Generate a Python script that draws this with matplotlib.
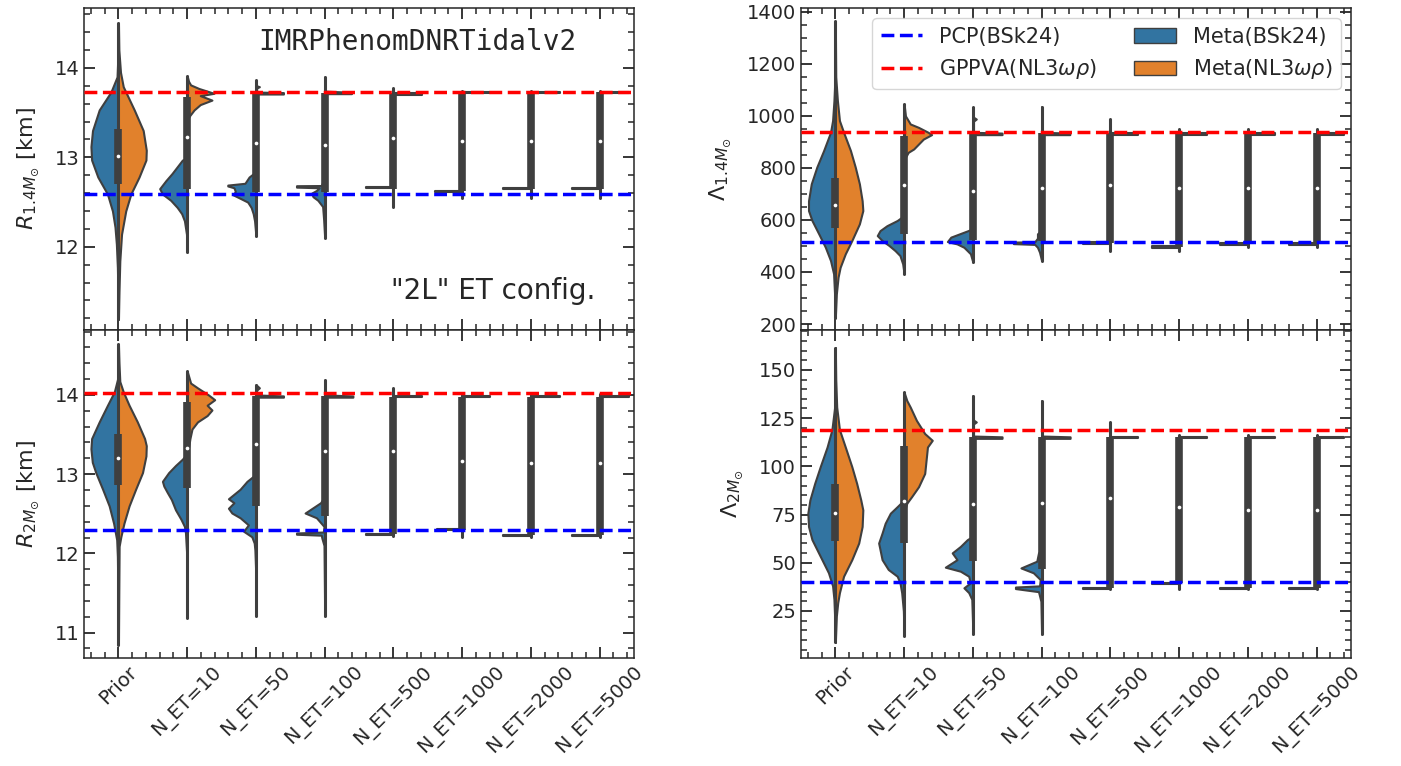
import numpy as np
import matplotlib
matplotlib.use("Agg")
import matplotlib.pyplot as plt
from matplotlib.ticker import MultipleLocator
from matplotlib.lines import Line2D
from matplotlib.patches import Patch

# ---------------- data ----------------
CATS = ["Prior", "N_ET=10", "N_ET=50", "N_ET=100", "N_ET=500",
        "N_ET=1000", "N_ET=2000", "N_ET=5000"]

# reference lines
R14_PCP, R14_GPPVA = 12.59, 13.727
R2_PCP, R2_GPPVA = 12.30, 14.03
L14_PCP, L14_GPPVA = 517, 937
L2_PCP, L2_GPPVA = 40, 119

# half-violin density profiles: (value, half-width in category units)
R14_BSK = [
    [(14.50, 0), (14.2, 0.005), (13.9, 0.02), (13.73, 0.11), (13.53, 0.28), (13.30, 0.377), (13.12, 0.40),
     (12.97, 0.39), (12.78, 0.30), (12.59, 0.16), (12.40, 0.087), (12.22, 0.05), (12.03, 0.03), (11.77, 0.015),
     (11.5, 0.008), (11.19, 0)],
    [(12.99, 0), (12.97, 0.07), (12.82, 0.22), (12.74, 0.31), (12.65, 0.40), (12.59, 0.36), (12.52, 0.24),
     (12.44, 0.145), (12.37, 0.08), (12.29, 0.04), (12.14, 0.01), (11.94, 0)],
    [(12.84, 0), (12.78, 0.10), (12.71, 0.16), (12.69, 0.41), (12.68, 0.41), (12.66, 0.32), (12.62, 0.30),
     (12.58, 0.33), (12.55, 0.25), (12.50, 0.12), (12.44, 0.07), (12.37, 0.04), (12.29, 0.02), (12.12, 0)],
    [(12.76, 0), (12.72, 0.03), (12.685, 0.05), (12.683, 0.41), (12.667, 0.41), (12.66, 0.08), (12.63, 0.12),
     (12.60, 0.19), (12.56, 0.17), (12.52, 0.10), (12.45, 0.03), (12.30, 0.015), (12.10, 0)],
    [(12.671, 0.40), (12.655, 0.40)],
    [(12.628, 0.40), (12.612, 0.40)],
    [(12.658, 0.41), (12.642, 0.41)],
    [(12.658, 0.40), (12.642, 0.40)],
]
R14_NL3 = [
    [(14.50, 0), (14.2, 0.006), (13.95, 0.03), (13.79, 0.07), (13.53, 0.23), (13.30, 0.36), (13.08, 0.405),
     (12.97, 0.40), (12.78, 0.30), (12.59, 0.18), (12.40, 0.106), (12.14, 0.045), (11.84, 0.02),
     (11.5, 0.008), (11.19, 0)],
    [(13.91, 0), (13.85, 0.02), (13.81, 0.05), (13.77, 0.17), (13.716, 0.39), (13.69, 0.19), (13.64, 0.36),
     (13.59, 0.19), (13.53, 0.10), (13.47, 0.04), (13.42, 0)],
    [(13.86, 0), (13.80, 0.01), (13.79, 0.05), (13.775, 0.01), (13.73, 0.01), (13.724, 0.40), (13.708, 0.40)],
    [(13.90, 0), (13.74, 0.01), (13.728, 0.39), (13.712, 0.39)],
    [(13.718, 0.42), (13.702, 0.42)],
    [(13.735, 0.41), (13.719, 0.41)],
    [(13.735, 0.42), (13.719, 0.42)],
    [(13.735, 0.43), (13.719, 0.43)],
]
R14_Q1 = [12.70, 12.65, 12.61, 12.61, 12.645, 12.62, 12.65, 12.65]
R14_Q3 = [13.32, 13.67, 13.727, 13.72, 13.72, 13.727, 13.727, 13.727]
R14_MED = [13.01, 13.23, 13.16, 13.14, 13.22, 13.18, 13.18, 13.18]
R14_LO = [11.19, 11.94, 12.12, 12.10, 12.44, 12.55, 12.55, 12.55]
R14_HI = [14.50, 13.91, 13.86, 13.90, 13.78, 13.74, 13.74, 13.74]

R2_BSK = [
    [(14.64, 0), (14.4, 0.005), (14.21, 0.01), (14.04, 0.06), (13.87, 0.16), (13.66, 0.28), (13.45, 0.39),
     (13.32, 0.40), (13.15, 0.38), (13.02, 0.33), (12.81, 0.23), (12.60, 0.135), (12.38, 0.07), (12.17, 0.025),
     (11.96, 0.015), (11.5, 0.008), (10.85, 0)],
    [(13.26, 0), (13.19, 0.07), (13.11, 0.17), (13.02, 0.27), (12.91, 0.36), (12.85, 0.34), (12.77, 0.29),
     (12.68, 0.23), (12.55, 0.17), (12.43, 0.09), (12.34, 0.04), (12.26, 0.025), (12.0, 0.008), (11.19, 0)],
    [(13.0, 0), (12.91, 0.13), (12.81, 0.23), (12.69, 0.40), (12.64, 0.32), (12.57, 0.40), (12.51, 0.35),
     (12.45, 0.23), (12.36, 0.11), (12.28, 0.18), (12.21, 0.06), (12.13, 0.025), (12.04, 0.015),
     (11.8, 0.005), (11.21, 0)],
    [(12.72, 0), (12.64, 0.06), (12.51, 0.285), (12.45, 0.12), (12.34, 0.01), (12.27, 0.02), (12.258, 0.41),
     (12.242, 0.41), (12.23, 0.05), (12.19, 0.04), (12.1, 0.01), (11.21, 0)],
    [(12.248, 0.40), (12.232, 0.40)],
    [(12.308, 0.36), (12.292, 0.36)],
    [(12.238, 0.41), (12.222, 0.41)],
    [(12.238, 0.40), (12.222, 0.40)],
]
R2_NL3 = [
    [(14.64, 0), (14.4, 0.008), (14.17, 0.02), (14.04, 0.07), (13.87, 0.155), (13.66, 0.275), (13.45, 0.38),
     (13.36, 0.405), (13.23, 0.40), (13.02, 0.35), (12.81, 0.25), (12.60, 0.155), (12.38, 0.08),
     (12.21, 0.035), (12.09, 0.01), (11.5, 0.005), (10.85, 0)],
    [(14.30, 0), (14.15, 0.05), (14.09, 0.15), (14.0, 0.31), (13.94, 0.40), (13.87, 0.29), (13.81, 0.36),
     (13.74, 0.29), (13.66, 0.15), (13.57, 0.07), (13.45, 0.04), (13.28, 0.01), (13.2, 0)],
    [(14.13, 0), (14.09, 0.05), (14.06, 0.01), (14.0, 0.01), (13.988, 0.40), (13.972, 0.40)],
    [(14.19, 0), (14.0, 0.01), (13.988, 0.41), (13.972, 0.41)],
    [(13.988, 0.42), (13.972, 0.42)],
    [(13.988, 0.41), (13.972, 0.41)],
    [(13.988, 0.42), (13.972, 0.42)],
    [(13.988, 0.43), (13.972, 0.43)],
]
R2_Q1 = [12.86, 12.83, 12.60, 12.47, 12.24, 12.30, 12.23, 12.23]
R2_Q3 = [13.51, 13.91, 13.99, 13.99, 13.98, 13.98, 13.98, 13.98]
R2_MED = [13.20, 13.33, 13.38, 13.29, 13.29, 13.17, 13.14, 13.14]
R2_LO = [10.85, 11.19, 11.21, 11.21, 12.22, 12.21, 12.21, 12.21]
R2_HI = [14.64, 14.30, 14.13, 14.19, 14.085, 14.01, 14.01, 14.01]

L14_BSK = [
    [(1364, 0), (1150, 0.005), (1059, 0.02), (982, 0.04), (937, 0.07), (867, 0.17), (803, 0.27), (739, 0.35),
     (674, 0.39), (636, 0.39), (598, 0.34), (546, 0.24), (495, 0.145), (444, 0.07), (393, 0.025),
     (300, 0.008), (225, 0)],
    [(617, 0), (598, 0.10), (578, 0.25), (559, 0.35), (540, 0.39), (521, 0.32), (502, 0.22), (482, 0.13),
     (463, 0.06), (431, 0.02), (393, 0)],
    [(566, 0), (553, 0.13), (534, 0.32), (517, 0.37), (508, 0.23), (495, 0.13), (482, 0.08), (470, 0.035),
     (438, 0)],
    [(560, 0), (547, 0.06), (530, 0.06), (516, 0.10), (515, 0.41), (509, 0.41), (506, 0.10), (495, 0.06),
     (476, 0.03), (444, 0)],
    [(514, 0.40), (508, 0.40)],
    [(500, 0.39), (494, 0.39)],
    [(510, 0.40), (504, 0.40)],
    [(510, 0.40), (504, 0.40)],
]
L14_NL3 = [
    [(1364, 0), (1150, 0.006), (1059, 0.03), (982, 0.06), (937, 0.12), (867, 0.22), (803, 0.29), (739, 0.35),
     (674, 0.39), (636, 0.40), (585, 0.35), (521, 0.24), (470, 0.145), (418, 0.07), (380, 0.04),
     (316, 0.015), (225, 0)],
    [(1046, 0), (1000, 0.02), (969, 0.09), (956, 0.21), (937, 0.35), (928, 0.40), (911, 0.28), (892, 0.21),
     (873, 0.14), (860, 0.06), (841, 0.02), (822, 0)],
    [(1033, 0), (995, 0.01), (988, 0.05), (980, 0.01), (937, 0.01), (934, 0.425), (928, 0.425)],
    [(1036, 0), (937, 0.01), (934, 0.41), (928, 0.41)],
    [(934, 0.40), (928, 0.40)],
    [(934, 0.40), (928, 0.40)],
    [(934, 0.40), (928, 0.40)],
    [(934, 0.40), (928, 0.40)],
]
L14_Q1 = [568, 547, 523, 521, 511, 497, 507, 507]
L14_Q3 = [762, 924, 934, 934, 934, 934, 934, 934]
L14_MED = [659, 736, 713, 722, 735, 721, 721, 721]
L14_LO = [225, 393, 438, 444, 479, 479, 497, 497]
L14_HI = [1364, 1046, 1033, 1036, 988, 950, 950, 950]

L2_BSK = [
    [(161.6, 0), (140, 0.005), (130.7, 0.01), (119, 0.05), (110, 0.12), (99.8, 0.22), (91.2, 0.30),
     (82.6, 0.37), (75.7, 0.40), (68.8, 0.39), (62, 0.34), (53.4, 0.22), (44.8, 0.10), (38, 0.04),
     (31, 0.02), (20, 0.008), (8.7, 0)],
    [(82.6, 0), (79.1, 0.10), (75.7, 0.20), (70.5, 0.275), (65.4, 0.32), (60.2, 0.37), (56.8, 0.35),
     (51.6, 0.32), (46.5, 0.23), (43, 0.10), (39.6, 0.06), (34.5, 0.035), (25, 0.01), (12.1, 0)],
    [(63.7, 0), (62, 0.08), (58.5, 0.18), (55.1, 0.30), (51.6, 0.23), (47.7, 0.40), (45.6, 0.18),
     (43, 0.06), (39.6, 0.035), (37, 0.13), (34.5, 0.06), (31, 0.015), (20, 0.005), (13, 0)],
    [(57, 0), (55.1, 0.045), (50.8, 0.07), (47.3, 0.30), (44.8, 0.12), (41.3, 0.02), (38, 0.03),
     (37.4, 0.38), (36.6, 0.38), (35, 0.045), (30, 0.01), (13, 0)],
    [(37.1, 0.40), (36.3, 0.40)],
    [(39.7, 0.39), (38.9, 0.39)],
    [(37.1, 0.40), (36.3, 0.40)],
    [(37.1, 0.40), (36.3, 0.40)],
]
L2_NL3 = [
    [(161.6, 0), (145, 0.006), (130.7, 0.02), (119, 0.06), (110, 0.145), (99.8, 0.24), (91.2, 0.31),
     (82.6, 0.37), (77.4, 0.40), (68.8, 0.39), (60.2, 0.34), (51.6, 0.24), (43, 0.12), (34.5, 0.06),
     (29.3, 0.035), (22.4, 0.015), (8.7, 0)],
    [(138.4, 0), (134.1, 0.04), (130.7, 0.09), (123.8, 0.18), (117, 0.30), (113.5, 0.41), (110, 0.34),
     (103.2, 0.32), (96.3, 0.30), (89.4, 0.21), (84.3, 0.11), (80.9, 0.04), (77.4, 0.01), (75, 0)],
    [(136.7, 0), (124, 0.01), (123, 0.05), (122, 0.01), (115.7, 0.01), (115.3, 0.425), (114.5, 0.425)],
    [(134.1, 0), (115.7, 0.01), (115.3, 0.415), (114.5, 0.415)],
    [(115.3, 0.40), (114.5, 0.40)],
    [(115.3, 0.40), (114.5, 0.40)],
    [(115.3, 0.40), (114.5, 0.40)],
    [(115.3, 0.40), (114.5, 0.40)],
]
L2_Q1 = [61.1, 60.2, 50.8, 46.5, 36.7, 39.3, 36.7, 36.7]
L2_Q3 = [90.8, 110.4, 115.2, 115.2, 115.2, 115.2, 115.2, 115.2]
L2_MED = [75.7, 82.1, 80.3, 80.9, 83.4, 78.7, 77.2, 77.2]
L2_LO = [8.7, 12.1, 13, 13, 36.4, 36.4, 36.4, 36.4]
L2_HI = [161.6, 138.4, 136.7, 134.1, 122.9, 116, 116, 116]

# ---------------- style ----------------
plt.rcParams['font.family'] = ['DejaVu Sans']
BLUE = '#3274a1'
ORANGE = '#e1812c'
EDGE = '#3f3f3f'
TXT = '#262626'

fig = plt.figure(figsize=(14.01, 7.66), dpi=100)
L, W = 0.060, 0.3926
R = 0.5717
TOP, MID, BOT = 0.9896, 0.5692, 0.141
ax_tl = fig.add_axes([L, MID, W, TOP - MID])
ax_bl = fig.add_axes([L, BOT, W, MID - BOT], sharex=ax_tl)
ax_tr = fig.add_axes([R, MID, W, TOP - MID])
ax_br = fig.add_axes([R, BOT, W, MID - BOT], sharex=ax_tr)


def draw_panel(ax, bsk, nl3, q1, q3, med, lo, hi, pcp, gppva):
    for i in range(len(CATS)):
        yb, wb = np.array(bsk[i], dtype=float).T
        yo, wo = np.array(nl3[i], dtype=float).T
        ax.fill_betweenx(yb, i - wb, i, facecolor=BLUE, edgecolor=EDGE, lw=1.5, zorder=2)
        ax.fill_betweenx(yo, i, i + wo, facecolor=ORANGE, edgecolor=EDGE, lw=1.5, zorder=2)
        ax.plot([i, i], [lo[i], hi[i]], color=EDGE, lw=2.2, solid_capstyle='round', zorder=3)
        ax.plot([i, i], [q1[i], q3[i]], color=EDGE, lw=5.5, solid_capstyle='butt', zorder=3)
        ax.scatter([i], [med[i]], s=7, color='white', zorder=4, linewidths=0)
    ax.axhline(pcp, color='blue', ls='--', lw=2.5, zorder=5)
    ax.axhline(gppva, color='red', ls='--', lw=2.5, zorder=5)
    ax.set_xlim(-0.5, len(CATS) - 0.5)
    ax.set_xticks(range(len(CATS)))
    ax.xaxis.set_minor_locator(MultipleLocator(0.2))
    ax.tick_params(which='both', direction='in', top=True, right=True, colors=TXT, labelsize=14)
    ax.tick_params(which='major', length=8, width=1.3)
    ax.tick_params(which='minor', length=4.5, width=1.1)
    for s in ax.spines.values():
        s.set_color(TXT)
        s.set_linewidth(1.1)


draw_panel(ax_tl, R14_BSK, R14_NL3, R14_Q1, R14_Q3, R14_MED, R14_LO, R14_HI, R14_PCP, R14_GPPVA)
draw_panel(ax_bl, R2_BSK, R2_NL3, R2_Q1, R2_Q3, R2_MED, R2_LO, R2_HI, R2_PCP, R2_GPPVA)
draw_panel(ax_tr, L14_BSK, L14_NL3, L14_Q1, L14_Q3, L14_MED, L14_LO, L14_HI, L14_PCP, L14_GPPVA)
draw_panel(ax_br, L2_BSK, L2_NL3, L2_Q1, L2_Q3, L2_MED, L2_LO, L2_HI, L2_PCP, L2_GPPVA)

ax_tl.set_ylim(11.07, 14.67)
ax_tl.yaxis.set_major_locator(MultipleLocator(1))
ax_tl.yaxis.set_minor_locator(MultipleLocator(0.2))
ax_bl.set_ylim(10.68, 14.82)
ax_bl.yaxis.set_major_locator(MultipleLocator(1))
ax_bl.yaxis.set_minor_locator(MultipleLocator(0.2))
ax_tr.set_ylim(177, 1415)
ax_tr.yaxis.set_major_locator(MultipleLocator(200))
ax_tr.yaxis.set_minor_locator(MultipleLocator(50))
ax_br.set_ylim(0.6, 170.7)
ax_br.yaxis.set_major_locator(MultipleLocator(25))
ax_br.yaxis.set_minor_locator(MultipleLocator(5))

for ax in (ax_tl, ax_tr):
    ax.tick_params(labelbottom=False)
for ax in (ax_bl, ax_br):
    ax.set_xticklabels(CATS, rotation=45, ha='center', fontsize=14, color=TXT)

ax_tl.set_ylabel(r'$R_{1.4M_{\odot}}$ [km]', fontsize=16, color=TXT, labelpad=10)
ax_bl.set_ylabel(r'$R_{2M_{\odot}}$ [km]', fontsize=16, color=TXT, labelpad=10)
ax_tr.set_ylabel(r'$\Lambda_{1.4M_{\odot}}$', fontsize=16, color=TXT, labelpad=10)
ax_br.set_ylabel(r'$\Lambda_{2M_{\odot}}$', fontsize=16, color=TXT, labelpad=10)

ax_tl.text(0.316, 0.895, 'IMRPhenomDNRTidalv2', transform=ax_tl.transAxes, fontsize=20,
           family='DejaVu Sans Mono', ha='left', va='center', color=TXT)
ax_tl.text(0.93, 0.12, '"2L" ET config.', transform=ax_tl.transAxes, fontsize=20,
           ha='right', va='center', color=TXT)

handles = [
    Line2D([], [], color='blue', ls='--', lw=2.5, label='PCP(BSk24)'),
    Line2D([], [], color='red', ls='--', lw=2.5, label=r'GPPVA(NL3$\omega\rho$)'),
    Patch(facecolor=BLUE, edgecolor=EDGE, label='Meta(BSk24)'),
    Patch(facecolor=ORANGE, edgecolor=EDGE, label=r'Meta(NL3$\omega\rho$)'),
]
leg = ax_tr.legend(handles=handles, ncol=2, loc='upper right', fontsize=15, frameon=True,
                   fancybox=True, framealpha=0.8, columnspacing=1.8, handlelength=2.0)
for t in leg.get_texts():
    t.set_color(TXT)

fig.savefig('out.png', dpi=100)
